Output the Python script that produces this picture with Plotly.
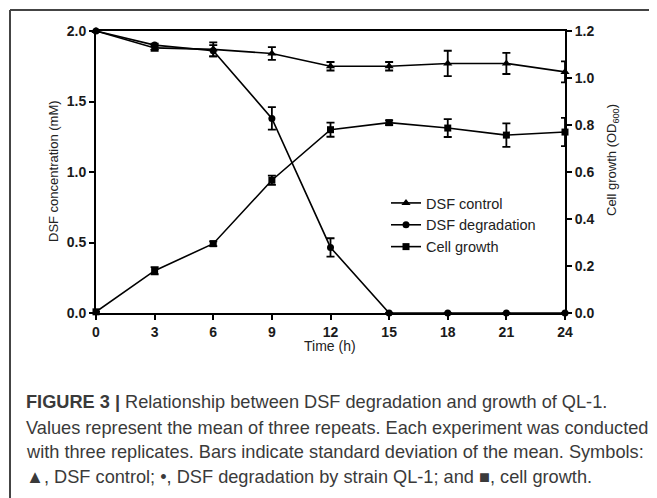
import plotly.graph_objects as go

# The page adds an 8px body margin, so the figure is 8px smaller than the window
OFF = 8
W, H = 657 - OFF, 498 - OFF

time_h = [0, 3, 6, 9, 12, 15, 18, 21, 24]
dsf_control = [2.0, 1.88, 1.87, 1.84, 1.75, 1.75, 1.77, 1.77, 1.71]
dsf_control_sd = [0.0, 0.02, 0.05, 0.045, 0.03, 0.03, 0.09, 0.075, 0.075]
dsf_degradation = [2.0, 1.90, 1.86, 1.38, 0.465, 0.0, 0.0, 0.0, 0.0]
dsf_degradation_sd = [0.0, 0.01, 0.04, 0.08, 0.065, 0.0, 0.0, 0.0, 0.0]
cell_growth = [0.005, 0.18, 0.295, 0.565, 0.78, 0.81, 0.787, 0.757, 0.77]
cell_growth_sd = [0.0, 0.015, 0.01, 0.02, 0.03, 0.01, 0.038, 0.05, 0.06]

x_ticks = [0, 3, 6, 9, 12, 15, 18, 21, 24]
left_ticks = [0.0, 0.5, 1.0, 1.5, 2.0]
right_ticks = [0.0, 0.2, 0.4, 0.6, 0.8, 1.0, 1.2]

caption_lines = [
    "<b>FIGURE 3 |</b> Relationship between DSF degradation and growth of QL-1.",
    "Values represent the mean of three repeats. Each experiment was conducted",
    "with three replicates. Bars indicate standard deviation of the mean. Symbols:",
    "▲, DSF control; •, DSF degradation by strain QL-1; and ■, cell growth.",
]


def px(x):
    return (x - OFF) / W


def py(y):
    return 1 - (y - OFF) / H


def err(vals):
    return dict(type="data", array=vals, visible=True, color="black",
                thickness=1.8, width=4)


fig = go.Figure()
fig.add_trace(go.Scatter(
    x=time_h, y=dsf_control, name="DSF control", mode="lines+markers",
    line=dict(color="black", width=1.6),
    marker=dict(symbol="triangle-up", size=8, color="black"),
    error_y=err(dsf_control_sd), cliponaxis=False, yaxis="y"))
fig.add_trace(go.Scatter(
    x=time_h, y=dsf_degradation, name="DSF degradation", mode="lines+markers",
    line=dict(color="black", width=1.6),
    marker=dict(symbol="circle", size=7, color="black"),
    error_y=err(dsf_degradation_sd), cliponaxis=False, yaxis="y"))
fig.add_trace(go.Scatter(
    x=time_h, y=cell_growth, name="Cell growth", mode="lines+markers",
    line=dict(color="black", width=1.6),
    marker=dict(symbol="square", size=7, color="black"),
    error_y=err(cell_growth_sd), cliponaxis=False, yaxis="y2"))

axfont = dict(family="Liberation Sans, Arial, sans-serif", size=14, color="#1a1a1a")

fig.update_layout(
    width=W, height=H,
    margin=dict(l=0, r=0, t=0, b=0, pad=0, autoexpand=False),
    paper_bgcolor="white", plot_bgcolor="white",
    showlegend=True,
    legend=dict(x=px(386), y=py(187), xanchor="left", yanchor="top",
                bgcolor="rgba(0,0,0,0)",
                font=dict(family="Liberation Sans, Arial, sans-serif", size=14.5, color="#222"),
                itemwidth=30, tracegroupgap=0),
    xaxis=dict(domain=[px(96), px(565)], range=[0, 24], tickvals=x_ticks,
               ticktext=[f"<b>{t}</b>" for t in x_ticks],
               showgrid=False, zeroline=False, showline=True, linecolor="black",
               linewidth=2, mirror=True, ticks="outside", ticklen=5, tickwidth=2,
               tickcolor="black", tickfont=axfont, anchor="y", automargin=False),
    yaxis=dict(domain=[py(313), py(31)], range=[0, 2.0], tickvals=left_ticks,
               ticktext=[f"<b>{t:.1f}</b>" for t in left_ticks],
               showgrid=False, zeroline=False, showline=True, linecolor="black",
               linewidth=2, ticks="outside", ticklen=5, tickwidth=2,
               tickcolor="black", tickfont=axfont, automargin=False),
    yaxis2=dict(overlaying="y", side="right", range=[0, 1.2], tickvals=right_ticks,
                ticktext=[f"<b>{t:.1f}</b>" for t in right_ticks],
                showgrid=False, zeroline=False, showline=True, linecolor="black",
                linewidth=2, ticks="outside", ticklen=5, tickwidth=2,
                tickcolor="black", tickfont=axfont, anchor="x", automargin=False),
)

title_font = dict(family="Liberation Sans, Arial, sans-serif", size=13, color="#222")
annotations = [
    dict(text="DSF concentration (mM)", x=px(53), y=py(171), textangle=-90,
         xref="paper", yref="paper", showarrow=False, font=title_font,
         xanchor="center", yanchor="middle"),
    dict(text="Cell growth (OD<sub>600</sub>)", x=px(613), y=py(160), textangle=-90,
         xref="paper", yref="paper", showarrow=False, font=title_font,
         xanchor="center", yanchor="middle"),
    dict(text="Time (h)", x=px(330), y=py(346), xref="paper", yref="paper",
         showarrow=False, font=dict(family="Liberation Sans, Arial, sans-serif",
                                    size=14, color="#222"),
         xanchor="center", yanchor="middle"),
]
cap_y = [402, 428, 452, 477]
for line, yy in zip(caption_lines, cap_y):
    annotations.append(dict(
        text=line, x=px(24), y=py(yy), xref="paper", yref="paper", showarrow=False,
        xanchor="left", yanchor="middle", align="left",
        font=dict(family="Liberation Sans, Arial, sans-serif", size=18.2, color="#3a3a3a")))
fig.update_layout(annotations=annotations)

fig.update_layout(shapes=[
    dict(type="line", xref="paper", yref="paper", layer="above", x0=px(10), x1=1.0,
         y0=py(10), y1=py(10), line=dict(color="#444", width=2)),
    dict(type="line", xref="paper", yref="paper", layer="above", x0=px(10), x1=px(10),
         y0=py(10), y1=0.0, line=dict(color="#444", width=2)),
])

fig.write_html("out.html")
